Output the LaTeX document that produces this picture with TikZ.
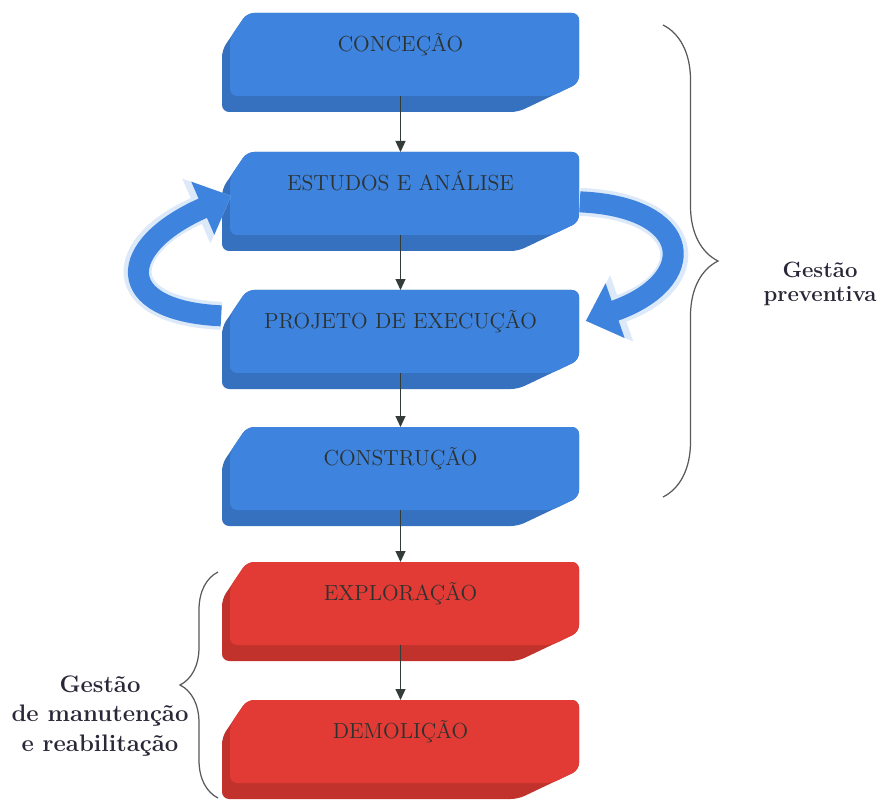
\documentclass[tikz,border=0pt]{standalone}
\usepackage{fontspec}
\usetikzlibrary{arrows.meta,decorations.pathreplacing}

\definecolor{stageblue}{RGB}{62,131,222}
\definecolor{stagered}{RGB}{226,58,52}
\definecolor{stageink}{RGB}{44,50,48}
\definecolor{flowink}{RGB}{52,60,56}
\definecolor{noteink}{RGB}{42,40,56}

\begin{document}
\begin{tikzpicture}[x=0.02cm,y=-0.02cm]
\tikzset{
  stage/.style={rectangle,inner sep=0pt,anchor=north,text width=7.16cm,align=center,
    text height=0.76cm,text depth=1.22cm,text=stageink,font=\fontsize{12.4}{15}\selectfont},
  flow/.style={draw=flowink,line width=0.7pt,-{Triangle[length=0.22cm,width=0.2cm]}},
  loopback/.style={draw=stageblue,line width=0.42cm,-{Triangle[length=0.62cm,width=1.12cm]},
    preaction={draw=stageblue!18,line width=0.56cm,-{Triangle[length=0.76cm,width=1.36cm]}}},
  bracket/.style={draw=black!65,line width=0.7pt,decorate},
  note/.style={align=center,text=noteink,font=\bfseries\fontsize{12.6}{13.6}\selectfont}
}
\fill[white] (0,0) rectangle (888,803);
\useasboundingbox (0,0) rectangle (888,803);
% blocks
\foreach \yy/\col in {13/stageblue,152/stageblue,290/stageblue,427/stageblue,562/stagered,700/stagered}{
  \fill[\col!86!black,rounded corners=4] (247,\yy) -- (579,\yy) -- (579,\yy+70) -- (518,\yy+99)
    -- (222,\yy+99) -- (222,\yy+37) -- cycle;
  \fill[\col,rounded corners=4] (247,\yy) -- (579,\yy) -- (579,\yy+70) -- (552,\yy+83)
    -- (230,\yy+83) -- (230,\yy+25) -- cycle;
}
\node[stage] (n_concecao) at (400.5,13) {CONCEÇÃO};
\node[stage] (n_estudos) at (400.5,152) {ESTUDOS E ANÁLISE};
\node[stage] (n_projeto) at (400.5,290) {PROJETO DE EXECUÇÃO};
\node[stage] (n_construcao) at (400.5,427) {CONSTRUÇÃO};
\node[stage] (n_exploracao) at (400.5,562) {EXPLORAÇÃO};
\node[stage] (n_demolicao) at (400.5,700) {DEMOLIÇÃO};
\draw[flow] ([yshift=0.34cm]n_concecao.south) -- (n_estudos.north);
\draw[flow] ([yshift=0.34cm]n_estudos.south) -- (n_projeto.north);
\draw[flow] ([yshift=0.34cm]n_projeto.south) -- (n_construcao.north);
\draw[flow] ([yshift=0.34cm]n_construcao.south) -- (n_exploracao.north);
\draw[flow] ([yshift=0.34cm]n_exploracao.south) -- (n_demolicao.north);
% loop between the two study stages
\draw[loopback] ([yshift=0.48cm]n_projeto.west) .. controls +(-110,-5) and +(-115,50) .. ([shift={(0.2cm,0.12cm)}]n_estudos.west);
\draw[loopback] (n_estudos.east) .. controls +(115,5) and +(115,-40) .. ([shift={(0.12cm,0.38cm)}]n_projeto.east);
% braces
\coordinate (c_prev_top) at (663,25);
\coordinate (c_prev_bot) at (663,497);
\coordinate (c_manut_top) at (218,572);
\coordinate (c_manut_bot) at (218,798);
\draw[bracket,decoration={brace,amplitude=1.1cm}] (c_prev_top) -- (c_prev_bot);
\draw[bracket,decoration={brace,amplitude=0.76cm}] (c_manut_bot) -- (c_manut_top);
\node[note] (n_preventiva) at (820,284) {Gestão\\preventiva};
\node[note,font=\bfseries\fontsize{13.6}{17}\selectfont] (n_manutencao) at (100,716) {Gestão\\de manutenção\\e reabilitação};
\end{tikzpicture}
\end{document}
